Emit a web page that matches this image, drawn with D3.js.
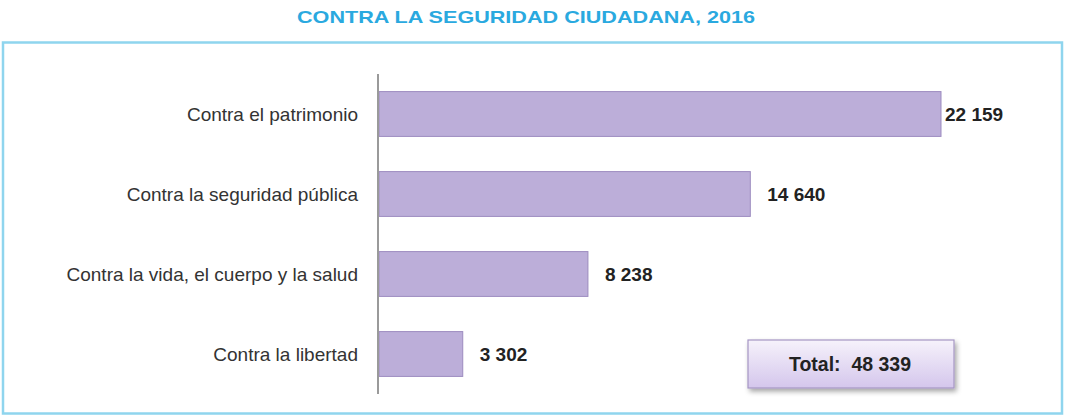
<!DOCTYPE html>
<html>
<head>
<meta charset="utf-8">
<script src="https://cdn.jsdelivr.net/npm/d3@7"></script>
<style>
  body { margin: 0; background: #fff; }
  svg text { font-family: "Liberation Sans", Arial, sans-serif; }
</style>
</head>
<body>
<div id="chart"></div>
<script>
// delitos contra la seguridad ciudadana, 2016
const CATEGORIES = ["Contra el patrimonio", "Contra la seguridad pública",
                    "Contra la vida, el cuerpo y la salud", "Contra la libertad"];
const VALUES = [22159, 14640, 8238, 3302];
const TOTAL = 48339;
const TITLE = "CONTRA LA SEGURIDAD CIUDADANA, 2016";

const W = 1073, H = 419;
const fmt = v => d3.format(",d")(v).replace(/,/g, " ");

const svg = d3.select("#chart").append("svg")
    .attr("width", W).attr("height", H);

const defs = svg.append("defs");
const grad = defs.append("linearGradient").attr("id", "totGrad")
    .attr("x1", 0).attr("y1", 0).attr("x2", 0).attr("y2", 1);
grad.append("stop").attr("offset", "0%").attr("stop-color", "#f6f2fb");
grad.append("stop").attr("offset", "100%").attr("stop-color", "#d4c6ec");
const shadow = defs.append("filter").attr("id", "shadow")
    .attr("x", "-10%").attr("y", "-20%").attr("width", "130%").attr("height", "160%");
shadow.append("feDropShadow").attr("dx", 2).attr("dy", 3).attr("stdDeviation", 2.5)
    .attr("flood-color", "#000").attr("flood-opacity", 0.35);

// title
svg.append("text")
    .attr("x", 526).attr("y", 23).attr("text-anchor", "middle")
    .attr("font-size", 17).attr("font-weight", "bold").attr("fill", "#2aa9df")
    .attr("textLength", 458).attr("lengthAdjust", "spacingAndGlyphs")
    .text(TITLE);

// frame
svg.append("rect").attr("x", 3).attr("y", 42.5).attr("width", 1059).attr("height", 371)
    .attr("fill", "none").attr("stroke", "#8fd5ee").attr("stroke-width", 2.5);

// scales
const x0 = 379;
const x = d3.scaleLinear().domain([0, 22159]).range([x0, 941]);
const y = d3.scaleBand().domain(CATEGORIES).range([74, 394])
    .paddingInner(0.44).paddingOuter(0.22);

// bars
svg.selectAll("rect.bar").data(VALUES).join("rect")
    .attr("class", "bar")
    .attr("x", x(0))
    .attr("y", (d, i) => y(CATEGORIES[i]))
    .attr("width", d => x(d) - x(0))
    .attr("height", y.bandwidth())
    .attr("fill", "#bcaed9").attr("stroke", "#9c8bbf").attr("stroke-width", 1);

// axis line (no ticks)
svg.append("line").attr("x1", x0 - 1).attr("x2", x0 - 1).attr("y1", 74).attr("y2", 394)
    .attr("stroke", "#9a9a9a").attr("stroke-width", 2);

// category labels
svg.selectAll("text.cat").data(CATEGORIES).join("text")
    .attr("class", "cat")
    .attr("x", 358)
    .attr("y", d => y(d) + y.bandwidth() / 2 + 7)
    .attr("text-anchor", "end").attr("font-size", 19).attr("fill", "#333")
    .text(d => d);

// value labels
svg.selectAll("text.val").data(VALUES).join("text")
    .attr("class", "val")
    .attr("x", d => x(d) + (d > 20000 ? 4 : 17))
    .attr("y", (d, i) => y(CATEGORIES[i]) + y.bandwidth() / 2 + 7)
    .attr("font-size", 19).attr("font-weight", "bold").attr("fill", "#222")
    .text(d => fmt(d));

// total box
svg.append("rect").attr("x", 748).attr("y", 340).attr("width", 206).attr("height", 48)
    .attr("fill", "url(#totGrad)").attr("stroke", "#a596c4").attr("stroke-width", 1.2)
    .attr("filter", "url(#shadow)");
svg.append("text").attr("x", 850).attr("y", 371).attr("text-anchor", "middle")
    .attr("font-size", 19.5).attr("font-weight", "bold").attr("fill", "#222")
    .attr("xml:space", "preserve")
    .text("Total:  " + fmt(TOTAL));
</script>
</body>
</html>
